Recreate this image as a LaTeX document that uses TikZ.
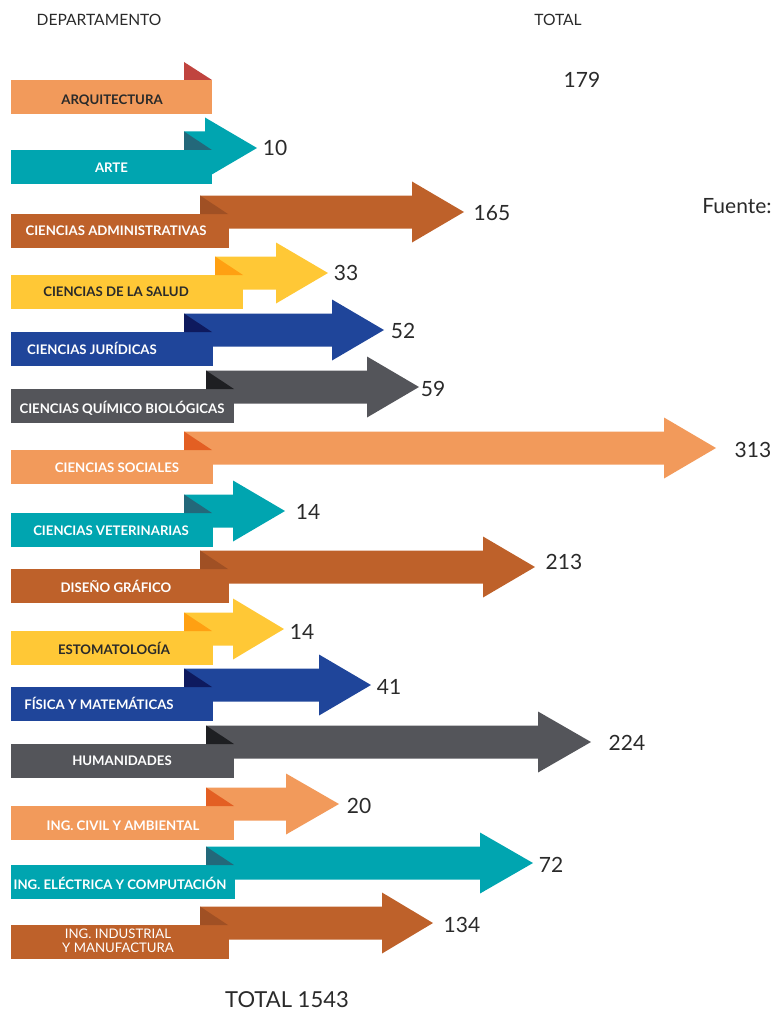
\documentclass[tikz,border=0pt]{standalone}
\usepackage{fontspec}
\setmainfont{Lato}
\usetikzlibrary{positioning}
\definecolor{orng}{HTML}{F29A5B}
\definecolor{tealc}{HTML}{00A5B0}
\definecolor{brwn}{HTML}{BE612A}
\definecolor{yllw}{HTML}{FFC836}
\definecolor{blu}{HTML}{1F459A}
\definecolor{gry}{HTML}{54555A}
\definecolor{redfold}{HTML}{C0443F}
\definecolor{tealfold}{HTML}{23687A}
\definecolor{brwnfold}{HTML}{A05024}
\definecolor{yllwfold}{HTML}{FFA012}
\definecolor{blufold}{HTML}{0E1A5E}
\definecolor{gryfold}{HTML}{1E1F22}
\definecolor{orngfold}{HTML}{E35F23}
\definecolor{ink}{HTML}{2A2A2A}

\begin{document}
\begin{tikzpicture}[x=1pt, y=-1pt,
    lbl/.style={font=\bfseries\fontsize{13.2}{15}\selectfont, text=white, inner sep=0pt},
    dlbl/.style={lbl, text=ink},
    num/.style={font=\fontsize{21}{25}\selectfont, text=ink, inner sep=0pt},
    hdr/.style={font=\fontsize{15.6}{18}\selectfont, text=ink, inner sep=0pt}
  ]
  \useasboundingbox (0,0) rectangle (774,1011);

  \node[hdr] (hdep) at (99,20) {DEPARTAMENTO};
  \node[hdr] (htot) at (558,20) {TOTAL};
  \node[num] (src) at (737,206) {Fuente:};

  % arquitectura
  \fill[redfold] (184,62) -- (184,80) -- (212,80) -- cycle;
  \fill[orng] (11,80) rectangle (212,114);
  \node[dlbl] (arq) at (112,100.5) {ARQUITECTURA};
  \node[num] (varq) at (582,80) {179};

  % arte
  \fill[tealc] (184,131.5) -- (205,131.5) -- ++(0,-14) -- ++(52,30.5) -- ++(-52,30.5) -- ++(0,-14) -- (184,164.5) -- cycle;
  \fill[tealc] (11,150) rectangle (212,184);
  \fill[tealfold] (184,131.5) -- ++(0,18.5) -- ++(28,0) -- cycle;
  \node[lbl] (arte) at (111.5,168) {ARTE};
  \node[num] (varte) at (275,148) {10};

  % ciencias administrativas
  \fill[brwn] (200,195.5) -- (412,195.5) -- ++(0,-14) -- ++(52,30.5) -- ++(-52,30.5) -- ++(0,-14) -- (200,228.5) -- cycle;
  \fill[brwn] (11,214) rectangle (229,248);
  \fill[brwnfold] (200,195.5) -- ++(0,18.5) -- ++(28,0) -- cycle;
  \node[lbl] (cadm) at (116,231) {CIENCIAS ADMINISTRATIVAS};
  \node[num] (vcadm) at (492,213) {165};

  % ciencias de la salud
  \fill[yllw] (215,256.5) -- (276,256.5) -- ++(0,-14) -- ++(52,30.5) -- ++(-52,30.5) -- ++(0,-14) -- (215,289.5) -- cycle;
  \fill[yllw] (11,275) rectangle (243,309);
  \fill[yllwfold] (215,256.5) -- ++(0,18.5) -- ++(28,0) -- cycle;
  \node[dlbl] (csal) at (116,292) {CIENCIAS DE LA SALUD};
  \node[num] (vcsal) at (346,273) {33};

  % ciencias juridicas
  \fill[blu] (184,313.5) -- (332,313.5) -- ++(0,-14) -- ++(52,30.5) -- ++(-52,30.5) -- ++(0,-14) -- (184,346.5) -- cycle;
  \fill[blu] (11,332) rectangle (213,366);
  \fill[blufold] (184,313.5) -- ++(0,18.5) -- ++(28,0) -- cycle;
  \node[lbl] (cjur) at (92,348) {CIENCIAS JURÍDICAS};
  \node[num] (vcjur) at (403,331) {52};

  % ciencias quimico biologicas
  \fill[gry] (206,370.5) -- (367,370.5) -- ++(0,-14) -- ++(52,30.5) -- ++(-52,30.5) -- ++(0,-14) -- (206,403.5) -- cycle;
  \fill[gry] (11,389) rectangle (234,423);
  \fill[gryfold] (206,370.5) -- ++(0,18.5) -- ++(28,0) -- cycle;
  \node[lbl] (cqb) at (122,408) {CIENCIAS QUÍMICO BIOLÓGICAS};
  \node[num] (vcqb) at (433,389) {59};

  % ciencias sociales
  \fill[orng] (184,431.5) -- (664,431.5) -- ++(0,-14) -- ++(52,30.5) -- ++(-52,30.5) -- ++(0,-14) -- (184,464.5) -- cycle;
  \fill[orng] (11,450) rectangle (213,484);
  \fill[orngfold] (184,431.5) -- ++(0,18.5) -- ++(28,0) -- cycle;
  \node[lbl] (csoc) at (117,468) {CIENCIAS SOCIALES};
  \node[num] (vcsoc) at (753,450) {313};

  % ciencias veterinarias
  \fill[tealc] (184,494.5) -- (233,494.5) -- ++(0,-14) -- ++(52,30.5) -- ++(-52,30.5) -- ++(0,-14) -- (184,527.5) -- cycle;
  \fill[tealc] (11,513) rectangle (213,547);
  \fill[tealfold] (184,494.5) -- ++(0,18.5) -- ++(28,0) -- cycle;
  \node[lbl] (cvet) at (111,531) {CIENCIAS VETERINARIAS};
  \node[num] (vcvet) at (308,512) {14};

  % diseno grafico
  \fill[brwn] (200,550.5) -- (483,550.5) -- ++(0,-14) -- ++(52,30.5) -- ++(-52,30.5) -- ++(0,-14) -- (200,583.5) -- cycle;
  \fill[brwn] (11,569) rectangle (229,603);
  \fill[brwnfold] (200,550.5) -- ++(0,18.5) -- ++(28,0) -- cycle;
  \node[lbl] (dis) at (116,586) {DISEÑO GRÁFICO};
  \node[num] (vdis) at (564,562) {213};

  % estomatologia
  \fill[yllw] (184,612.5) -- (233,612.5) -- ++(0,-14) -- ++(51,30.5) -- ++(-51,30.5) -- ++(0,-14) -- (184,645.5) -- cycle;
  \fill[yllw] (11,631) rectangle (213,665);
  \fill[yllwfold] (184,612.5) -- ++(0,18.5) -- ++(28,0) -- cycle;
  \node[dlbl] (est) at (114,648) {ESTOMATOLOGÍA};
  \node[num] (vest) at (302,632) {14};

  % fisica y matematicas
  \fill[blu] (184,668.5) -- (319,668.5) -- ++(0,-14) -- ++(52,30.5) -- ++(-52,30.5) -- ++(0,-14) -- (184,701.5) -- cycle;
  \fill[blu] (11,687) rectangle (213,721);
  \fill[blufold] (184,668.5) -- ++(0,18.5) -- ++(28,0) -- cycle;
  \node[lbl] (fis) at (99,703) {FÍSICA Y MATEMÁTICAS};
  \node[num] (vfis) at (389,687) {41};

  % humanidades
  \fill[gry] (206,725.5) -- (538,725.5) -- ++(0,-14) -- ++(53,30.5) -- ++(-53,30.5) -- ++(0,-14) -- (206,758.5) -- cycle;
  \fill[gry] (11,744) rectangle (234,778);
  \fill[gryfold] (206,725.5) -- ++(0,18.5) -- ++(28,0) -- cycle;
  \node[lbl] (hum) at (122,761) {HUMANIDADES};
  \node[num] (vhum) at (627,743) {224};

  % ing civil y ambiental
  \fill[orng] (206,787.5) -- (286,787.5) -- ++(0,-14) -- ++(53,30.5) -- ++(-53,30.5) -- ++(0,-14) -- (206,820.5) -- cycle;
  \fill[orng] (11,806) rectangle (234,840);
  \fill[orngfold] (206,787.5) -- ++(0,18.5) -- ++(28,0) -- cycle;
  \node[lbl] (civ) at (123,826) {ING. CIVIL Y AMBIENTAL};
  \node[num] (vciv) at (359,806) {20};

  % ing electrica y computacion
  \fill[tealc] (206,846.5) -- (480,846.5) -- ++(0,-14) -- ++(53,30.5) -- ++(-53,30.5) -- ++(0,-14) -- (206,879.5) -- cycle;
  \fill[tealc] (11,865) rectangle (235,899);
  \fill[tealfold] (206,846.5) -- ++(0,18.5) -- ++(28,0) -- cycle;
  \node[lbl] (elec) at (120,883) {ING. ELÉCTRICA Y COMPUTACIÓN};
  \node[num] (velec) at (551,865) {72};

  % ing industrial y manufactura
  \fill[brwn] (200,906.5) -- (382,906.5) -- ++(0,-14) -- ++(51,30.5) -- ++(-51,30.5) -- ++(0,-14) -- (200,939.5) -- cycle;
  \fill[brwn] (11,925) rectangle (229,959);
  \fill[brwnfold] (200,906.5) -- ++(0,18.5) -- ++(28,0) -- cycle;
  \node[lbl, font=\fontsize{13.2}{14}\selectfont, align=center] (ind) at (118,941) {ING. INDUSTRIAL\\Y MANUFACTURA};
  \node[num] (vind) at (462,925) {134};

  \node[num, font=\fontsize{22}{26}\selectfont] (tot) at (287,999.5) {TOTAL 1543};
\end{tikzpicture}
\end{document}
